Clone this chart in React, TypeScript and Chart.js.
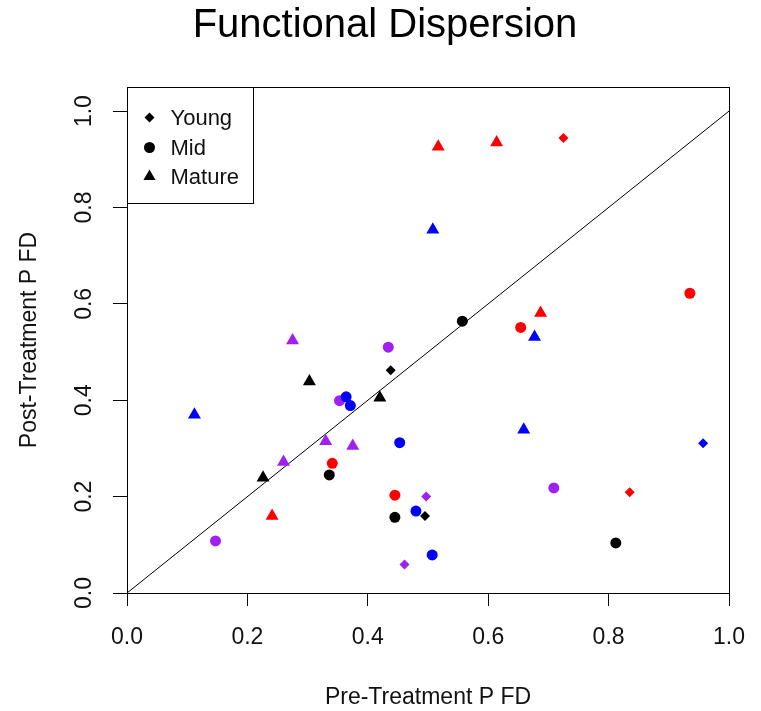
import React, { useEffect, useRef } from "react";
import { Chart, registerables } from "chart.js";

Chart.register(...registerables);

const TITLE = "Functional Dispersion";
const X_TITLE = "Pre-Treatment P FD";
const Y_TITLE = "Post-Treatment P FD";
const X_TICKS = [0, 0.2, 0.4, 0.6, 0.8, 1.0];
const Y_TICKS = [0, 0.2, 0.4, 0.6, 0.8, 1.0];
const LEGEND_LABELS = ["Young", "Mid", "Mature"];
const LEGEND_SHAPES = ["rectRot", "circle", "triangle"];

const RED = "#ff0000";
const BLUE = "#0000ff";
const PURPLE = "#a020f0";
const BLACK = "#000000";

// Young (diamonds)
const youngRed = [{ x: 0.725, y: 0.944 }, { x: 0.835, y: 0.209 }];
const youngBlue = [{ x: 0.957, y: 0.311 }];
const youngPurple = [{ x: 0.497, y: 0.2 }, { x: 0.461, y: 0.059 }];
const youngBlack = [{ x: 0.438, y: 0.462 }, { x: 0.495, y: 0.16 }];

// Mid (circles)
const midRed = [{ x: 0.935, y: 0.622 }, { x: 0.654, y: 0.551 }, { x: 0.341, y: 0.269 }, { x: 0.445, y: 0.203 }];
const midBlue = [{ x: 0.364, y: 0.407 }, { x: 0.371, y: 0.389 }, { x: 0.453, y: 0.312 }, { x: 0.48, y: 0.17 }, { x: 0.507, y: 0.079 }];
const midPurple = [{ x: 0.434, y: 0.51 }, { x: 0.353, y: 0.399 }, { x: 0.147, y: 0.108 }, { x: 0.709, y: 0.218 }];
const midBlack = [{ x: 0.557, y: 0.564 }, { x: 0.336, y: 0.245 }, { x: 0.445, y: 0.157 }, { x: 0.812, y: 0.104 }];

// Mature (triangles)
const matureRed = [{ x: 0.517, y: 0.926 }, { x: 0.614, y: 0.935 }, { x: 0.687, y: 0.581 }, { x: 0.241, y: 0.16 }];
const matureBlue = [{ x: 0.508, y: 0.754 }, { x: 0.677, y: 0.531 }, { x: 0.112, y: 0.37 }, { x: 0.659, y: 0.339 }];
const maturePurple = [{ x: 0.275, y: 0.524 }, { x: 0.33, y: 0.315 }, { x: 0.375, y: 0.305 }, { x: 0.26, y: 0.272 }];
const matureBlack = [{ x: 0.303, y: 0.439 }, { x: 0.42, y: 0.405 }, { x: 0.226, y: 0.239 }];

const identityLine = [{ x: 0, y: 0 }, { x: 1, y: 1 }];

const FONT = "'Liberation Sans', Arial, Helvetica, sans-serif";

function pts(label: string, data: any[], color: string, style: string, radius: number) {
  return {
    label,
    data,
    pointStyle: style,
    pointRadius: radius,
    pointHoverRadius: radius,
    pointBackgroundColor: color,
    pointBorderColor: color,
    pointBorderWidth: 0,
    showLine: false,
  };
}

function drawSymbol(ctx: CanvasRenderingContext2D, style: string, x: number, y: number, r: number) {
  ctx.beginPath();
  if (style === "circle") {
    ctx.arc(x, y, r, 0, Math.PI * 2);
  } else if (style === "rectRot") {
    ctx.moveTo(x, y - r);
    ctx.lineTo(x + r, y);
    ctx.lineTo(x, y + r);
    ctx.lineTo(x - r, y);
  } else {
    ctx.moveTo(x, y - r);
    ctx.lineTo(x + r * 0.866, y + r / 2);
    ctx.lineTo(x - r * 0.866, y + r / 2);
  }
  ctx.closePath();
  ctx.fill();
}

const framePlugin = {
  id: "rframe",
  afterDraw(chart: any) {
    const { ctx, chartArea: a } = chart;
    ctx.save();
    ctx.strokeStyle = "#000";
    ctx.lineWidth = 1;
    ctx.strokeRect(Math.round(a.left) + 0.5, Math.round(a.top) + 0.5, Math.round(a.right - a.left), Math.round(a.bottom - a.top));
    // legend box
    const lx = Math.round(a.left) + 0.5;
    const ly = Math.round(a.top) + 0.5;
    const lw = 126;
    const lh = 116;
    ctx.fillStyle = "#fff";
    ctx.fillRect(lx, ly, lw, lh);
    ctx.strokeRect(lx, ly, lw, lh);
    const rowY = [30, 60, 89];
    const radii = [5, 5.5, 7];
    ctx.font = `22px ${FONT}`;
    ctx.textBaseline = "middle";
    ctx.textAlign = "left";
    LEGEND_LABELS.forEach((lab, i) => {
      ctx.fillStyle = "#000";
      drawSymbol(ctx, LEGEND_SHAPES[i], lx + 22, ly + rowY[i], radii[i]);
      ctx.fillStyle = "#111";
      ctx.fillText(lab, lx + 43, ly + rowY[i] + 1);
    });
    ctx.restore();
  },
};

export default function App() {
  const ref = useRef<HTMLCanvasElement | null>(null);
  useEffect(() => {
    document.body.style.margin = "0";
    const canvas = ref.current;
    if (!canvas) return;
    const D = 5, C = 5.5, T = 7.5;
    const chart = new Chart(canvas, {
      type: "scatter",
      data: {
        datasets: [
          pts("Young red", youngRed, RED, "rectRot", D),
          pts("Young blue", youngBlue, BLUE, "rectRot", D),
          pts("Young purple", youngPurple, PURPLE, "rectRot", D),
          pts("Young black", youngBlack, BLACK, "rectRot", D),
          pts("Mid red", midRed, RED, "circle", C),
          pts("Mid blue", midBlue, BLUE, "circle", C),
          pts("Mid purple", midPurple, PURPLE, "circle", C),
          pts("Mid black", midBlack, BLACK, "circle", C),
          pts("Mature red", matureRed, RED, "triangle", T),
          pts("Mature blue", matureBlue, BLUE, "triangle", T),
          pts("Mature purple", maturePurple, PURPLE, "triangle", T),
          pts("Mature black", matureBlack, BLACK, "triangle", T),
          {
            label: "1:1",
            data: identityLine,
            showLine: true,
            borderColor: "#000",
            borderWidth: 1,
            pointRadius: 0,
            pointHoverRadius: 0,
          } as any,
        ],
      },
      options: {
        responsive: false,
        animation: false,
        layout: { padding: { left: 41, right: 32, top: 0, bottom: 0 } },
        plugins: {
          legend: { display: false },
          tooltip: { enabled: false },
          title: {
            display: true,
            text: TITLE,
            color: "#000",
            font: { family: FONT, size: 40, weight: "normal" },
            padding: { top: 2, bottom: 37 },
          },
        },
        scales: {
          x: {
            type: "linear",
            min: 0,
            max: 1,
            afterBuildTicks: (s: any) => {
              s.ticks = X_TICKS.map((v) => ({ value: v }));
            },
            afterFit: (s: any) => {
              s.height = 118;
              s.paddingLeft = 0;
              s.paddingRight = 0;
            },
            ticks: {
              color: "#111",
              font: { family: FONT, size: 23 },
              padding: 18,
              maxRotation: 0,
              minRotation: 0,
              callback: (v: any) => Number(v).toFixed(1),
            },
            grid: { drawOnChartArea: false, drawTicks: true, tickLength: 13, color: "#000", lineWidth: 1 },
            border: { display: true, color: "#000", width: 1 },
            title: {
              display: true,
              text: X_TITLE,
              color: "#111",
              font: { family: FONT, size: 23 },
              padding: { top: 3, bottom: 0 },
            },
          },
          y: {
            type: "linear",
            min: 0,
            max: 1.05,
            afterBuildTicks: (s: any) => {
              s.ticks = Y_TICKS.map((v) => ({ value: v }));
            },
            afterFit: (s: any) => {
              s.width = 86;
              s.paddingTop = 0;
              s.paddingBottom = 0;
            },
            ticks: {
              color: "#111",
              font: { family: FONT, size: 23 },
              padding: 12,
              minRotation: 90,
              maxRotation: 90,
              crossAlign: "center",
              callback: (v: any) => Number(v).toFixed(1),
            },
            grid: { drawOnChartArea: false, drawTicks: true, tickLength: 14, color: "#000", lineWidth: 1 },
            border: { display: true, color: "#000", width: 1 },
            title: {
              display: true,
              text: Y_TITLE,
              color: "#111",
              font: { family: FONT, size: 23 },
              padding: { top: -25, bottom: 0 },
            },
          },
        },
      } as any,
      plugins: [framePlugin],
    });
    return () => chart.destroy();
  }, []);
  return (
    <div style={{ width: 761, height: 711, background: "#fff" }}>
      <canvas ref={ref} width={761} height={711} />
    </div>
  );
}
